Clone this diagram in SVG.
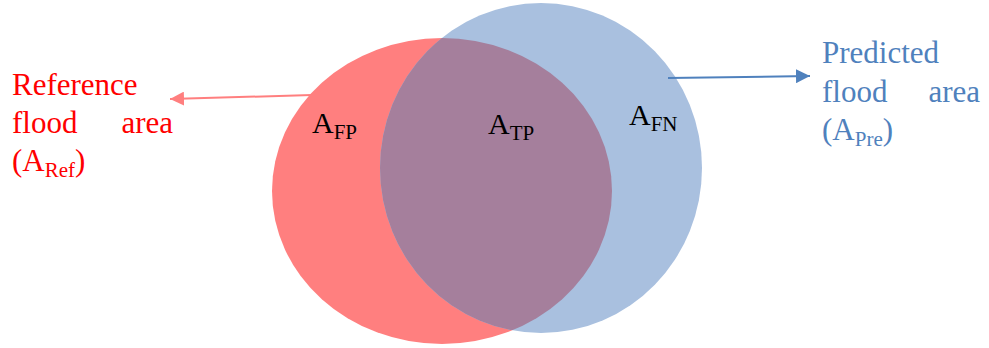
<svg xmlns="http://www.w3.org/2000/svg" width="989" height="348" viewBox="0 0 989 348">
<style>
text{font-family:'Liberation Serif','Times New Roman',serif}
.lbl{font-size:30px;fill:#000}
.red{font-size:31px;fill:#FF0000}
.blue{font-size:31px;fill:#4F81BD}
.sub{font-size:21px}
</style>
<defs>
<clipPath id="redclip"><ellipse cx="442" cy="191" rx="170" ry="153"/></clipPath>
<marker id="ahr" viewBox="0 0 10 10" refX="10" refY="5" markerWidth="7" markerHeight="7" orient="auto" markerUnits="strokeWidth"><path d="M0,0 L10,5 L0,10 z" fill="#FF7F7F"/></marker>
<marker id="ahb" viewBox="0 0 10 10" refX="10" refY="5" markerWidth="7" markerHeight="7" orient="auto" markerUnits="strokeWidth"><path d="M0,0 L10,5 L0,10 z" fill="#4F81BD"/></marker>
</defs>
<g id="ref">
<ellipse cx="442" cy="191" rx="170" ry="153" fill="#FF7F7F"/>
</g>
<g id="pre">
<ellipse cx="541" cy="168" rx="161" ry="165" fill="#A9C0DF"/>
</g>
<g id="overlap">
<ellipse cx="541" cy="168" rx="161" ry="165" fill="#A57F9C" clip-path="url(#redclip)"/>
</g>
<g id="labels">
<text class="lbl" x="312" y="133">A<tspan class="sub" dy="6">FP</tspan></text>
<text class="lbl" x="488" y="134">A<tspan class="sub" dy="6">TP</tspan></text>
<text class="lbl" x="629" y="125">A<tspan class="sub" dy="6">FN</tspan></text>
</g>
<g id="refText">
<text class="red" x="12" y="95">Reference</text>
<text class="red" x="12" y="133">flood</text>
<text class="red" x="173" y="133" text-anchor="end">area</text>
<text class="red" x="12" y="171">(A<tspan class="sub" dy="6">Ref</tspan><tspan dy="-6">)</tspan></text>
</g>
<g id="preText">
<text class="blue" x="822" y="63">Predicted</text>
<text class="blue" x="822" y="102">flood</text>
<text class="blue" x="980" y="102" text-anchor="end">area</text>
<text class="blue" x="822" y="140">(A<tspan class="sub" dy="6">Pre</tspan><tspan dy="-6">)</tspan></text>
</g>
<g id="connectors">
<line x1="312" y1="95" x2="170" y2="99" stroke="#FF7F7F" stroke-width="2" marker-end="url(#ahr)"/>
<line x1="668" y1="78" x2="810" y2="76" stroke="#4F81BD" stroke-width="2" marker-end="url(#ahb)"/>
</g>
</svg>
